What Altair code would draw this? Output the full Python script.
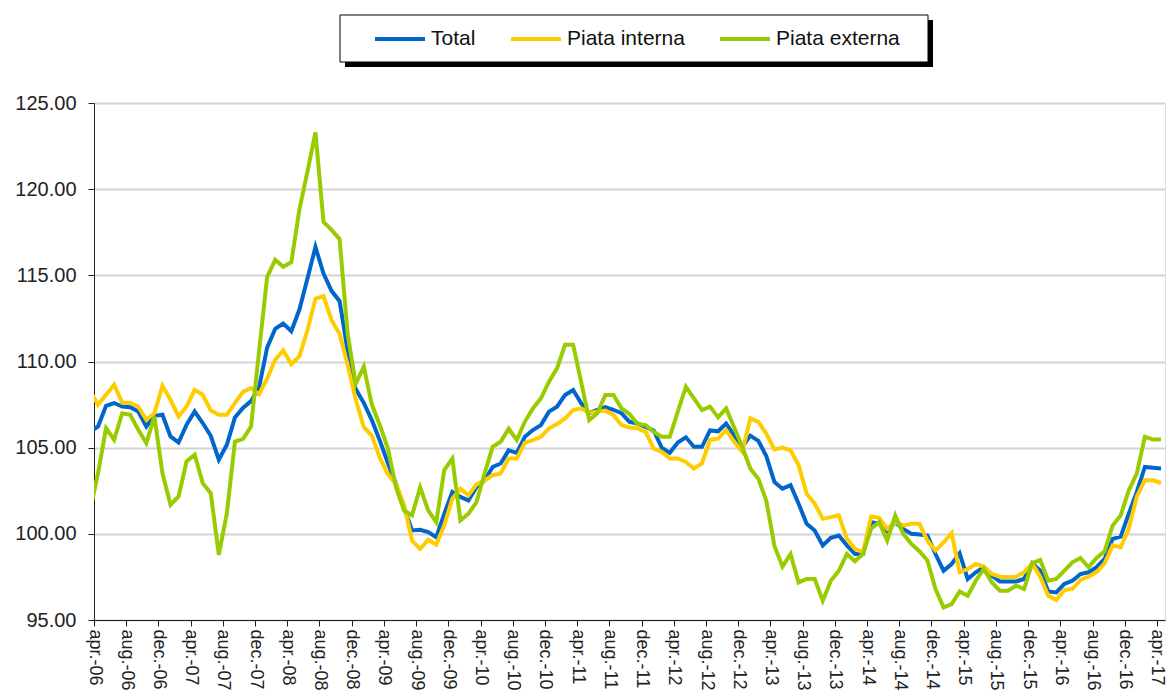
import altair as alt
import pandas as pd

series_names = ["Total", "Piata interna", "Piata externa"]
series_colors = ["#0066CC", "#FFCC00", "#99CC00"]

tick_labels = [
    "apr.-06", "aug.-06", "dec.-06", "apr.-07", "aug.-07", "dec.-07",
    "apr.-08", "aug.-08", "dec.-08", "apr.-09", "aug.-09", "dec.-09",
    "apr.-10", "aug.-10", "dec.-10", "apr.-11", "aug.-11", "dec.-11",
    "apr.-12", "aug.-12", "dec.-12", "apr.-13", "aug.-13", "dec.-13",
    "apr.-14", "aug.-14", "dec.-14", "apr.-15", "aug.-15", "dec.-15",
    "apr.-16", "aug.-16", "dec.-16", "apr.-17",
]

total = [
    105.9, 106.23, 107.43, 107.59, 107.39, 107.35, 107.1, 106.23, 106.85, 106.91,
    105.65, 105.3, 106.33, 107.1, 106.43, 105.69, 104.3, 105.17, 106.75, 107.3,
    107.7, 108.5, 110.8, 111.9, 112.2, 111.76, 113.0, 114.8, 116.64, 115.1,
    114.1, 113.5, 110.6, 108.4, 107.6, 106.6, 105.4, 104.1, 102.9, 101.5,
    100.2, 100.23, 100.1, 99.8, 101.17, 102.43, 102.14, 101.94, 102.72, 103.1,
    103.88, 104.08, 104.85, 104.7, 105.63, 106.02, 106.31, 107.09, 107.38, 108.06,
    108.35, 107.57, 107.0, 107.2, 107.35, 107.2, 107.0, 106.5, 106.4, 106.2,
    106.0, 105.0, 104.7, 105.3, 105.6, 105.05, 105.05, 106.0, 105.95, 106.4,
    105.7, 105.05, 105.7, 105.4, 104.5, 103.0, 102.62, 102.82, 101.75, 100.58,
    100.19, 99.32, 99.77, 99.9, 99.32, 98.83, 98.83, 100.68, 100.58, 100.16,
    100.68, 100.29, 100.0, 99.96, 99.9, 98.83, 97.86, 98.25, 98.87, 97.38,
    97.77, 98.06, 97.57, 97.24, 97.24, 97.24, 97.38, 98.29, 97.86, 96.66,
    96.6, 97.09, 97.28, 97.67, 97.77, 98.06, 98.54, 99.71, 99.84, 101.17,
    102.43, 103.88, 103.83, 103.79,
]

piata_interna = [
    108.3, 107.49, 108.07, 108.65, 107.62, 107.59, 107.39, 106.62, 107.0, 108.59,
    107.78, 106.81, 107.39, 108.36, 108.07, 107.16, 106.91, 106.91, 107.59, 108.24,
    108.46, 108.1, 109.0, 110.1, 110.64, 109.84, 110.3, 111.8, 113.64, 113.8,
    112.4, 111.6, 109.8, 107.8, 106.2, 105.7, 104.4, 103.45, 102.9, 101.7,
    99.6, 99.13, 99.65, 99.38, 100.49, 102.04, 102.62, 102.23, 102.87, 103.1,
    103.4, 103.5, 104.37, 104.37, 105.28, 105.44, 105.63, 106.12, 106.37, 106.7,
    107.18, 107.28, 107.03, 107.09, 107.15, 106.9, 106.31, 106.17, 106.12, 105.92,
    104.95, 104.76, 104.37, 104.37, 104.17, 103.79, 104.08, 105.44, 105.53, 106.02,
    105.34, 104.76, 106.7, 106.5, 105.8, 104.9, 105.01, 104.85, 103.98, 102.33,
    101.75, 100.87, 100.97, 101.07, 99.71, 99.13, 98.93, 101.01, 100.93, 100.29,
    100.68, 100.49, 100.58, 100.58, 99.61, 99.03, 99.51, 100.04, 97.77, 97.96,
    98.25, 98.1, 97.67, 97.51, 97.48, 97.51, 97.77, 98.29, 97.51, 96.41,
    96.16, 96.74, 96.8, 97.32, 97.51, 97.77, 98.29, 99.32, 99.22, 100.29,
    102.17, 103.11, 103.11, 102.95,
]

piata_externa = [
    101.3, 103.52, 106.13, 105.46, 107.0, 106.91, 106.04, 105.26, 106.81, 103.52,
    101.69, 102.17, 104.2, 104.59, 102.94, 102.36, 98.78, 101.2, 105.36, 105.5,
    106.23, 110.6, 114.9, 115.9, 115.5, 115.76, 118.8, 121.0, 123.3, 118.1,
    117.64, 117.1, 111.6, 108.7, 109.7, 107.5, 106.3, 104.95, 102.7, 101.36,
    101.07, 102.7, 101.36, 100.68, 103.7, 104.37, 100.78, 101.17, 101.84, 103.5,
    105.05, 105.34, 106.1, 105.44, 106.5, 107.28, 107.86, 108.83, 109.6, 110.97,
    110.97, 108.8, 106.6, 106.99, 108.06, 108.06, 107.28, 106.95, 106.37, 106.31,
    105.92, 105.63, 105.63, 107.09, 108.54, 107.86, 107.18, 107.38, 106.76, 107.28,
    106.17, 105.05, 103.79, 103.2, 101.9, 99.3, 98.1, 98.83, 97.18, 97.38,
    97.38, 96.12, 97.28, 97.86, 98.83, 98.41, 98.83, 100.29, 100.68, 99.61,
    101.07, 100.0, 99.42, 98.99, 98.45, 96.8, 95.73, 95.92, 96.66, 96.41,
    97.28, 97.96, 97.18, 96.7, 96.7, 96.99, 96.8, 98.29, 98.49, 97.28,
    97.38, 97.86, 98.35, 98.6, 98.06, 98.6, 98.99, 100.49, 101.07, 102.52,
    103.5, 105.63, 105.48, 105.48,
]

y_ticks = [95, 100, 105, 110, 115, 120, 125]

rows = []
for name, vals in zip(series_names, [total, piata_interna, piata_externa]):
    for k, v in enumerate(vals):
        rows.append({"k": k, "value": v, "series": name})
df = pd.DataFrame(rows)

labels_js = "[" + ",".join("'%s'" % s for s in tick_labels) + "]"
n_months = len(total)

FONT = "Liberation Sans"

lines = (
    alt.Chart(df)
    .transform_calculate(t="datum.k - 0.5")
    .mark_line(strokeWidth=4, clip=True)
    .encode(
        x=alt.X(
            "t:Q",
            scale=alt.Scale(domain=[0, n_months - 1], nice=False, zero=False),
            axis=alt.Axis(
                values=list(range(0, n_months, 4)),
                labelExpr=labels_js + "[round(datum.value / 4)]",
                labelAngle=90,
                labelAlign="left",
                labelBaseline="middle",
                labelFontSize=18,
                labelColor="#222222",
                labelPadding=3,
                labelFont=FONT,
                tickSize=6,
                tickColor="#222222",
                domainColor="#222222",
                grid=False,
                title=None,
                labelOverlap=False,
            ),
        ),
        y=alt.Y(
            "value:Q",
            scale=alt.Scale(domain=[95, 125], nice=False, zero=False),
            axis=alt.Axis(
                values=y_ticks,
                format=".2f",
                labelFontSize=20,
                labelColor="#222222",
                labelPadding=12,
                labelFont=FONT,
                tickSize=6,
                tickColor="#222222",
                domainColor="#222222",
                gridColor="#d4d4d4",
                gridWidth=2,
                title=None,
            ),
        ),
        color=alt.Color(
            "series:N",
            scale=alt.Scale(domain=series_names, range=series_colors),
            legend=alt.Legend(
                orient="none",
                legendX=279,
                legendY=-91,
                direction="horizontal",
                title=None,
                symbolType="stroke",
                symbolSize=2500,
                symbolStrokeWidth=4,
                labelFontSize=21,
                labelFont=FONT,
                labelColor="#111111",
                labelOffset=4,
                columnPadding=27,
                padding=0,
                zindex=1,
            ),
        ),
        detail="series:N",
    )
)

frame_df = pd.DataFrame({"a": [0]})
shadow = alt.Chart(frame_df).mark_rect(color="black").encode(
    x=alt.value(251), x2=alt.value(839), y=alt.value(-83), y2=alt.value(-36)
)
box = alt.Chart(frame_df).mark_rect(fill="white", stroke="black", strokeWidth=1).encode(
    x=alt.value(246), x2=alt.value(834), y=alt.value(-88), y2=alt.value(-41)
)

chart = (
    alt.layer(shadow, box, lines)
    .properties(
        width=1071,
        height=517,
        autosize=alt.AutoSizeParams(type="none"),
        padding={"left": 86, "top": 95, "right": 2, "bottom": 72},
    )
    .configure_view(strokeWidth=0)
    .configure(font=FONT)
)

chart.save("out.html", embed_options={"renderer": "svg", "actions": False})
